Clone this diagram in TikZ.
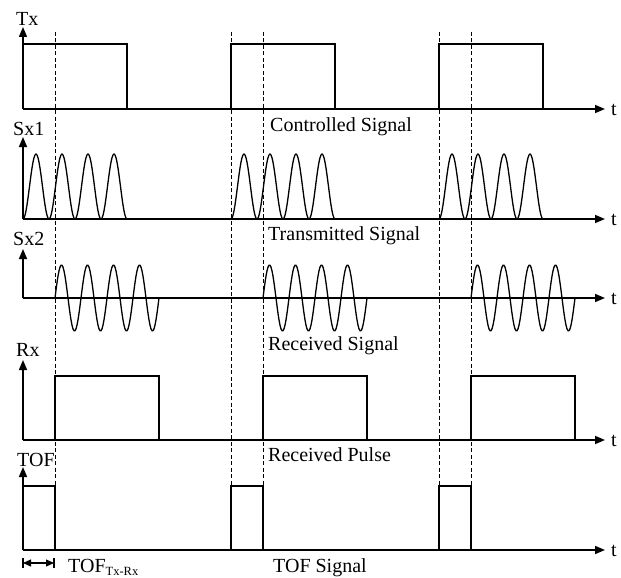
\documentclass[tikz,border=0pt]{standalone}
\usepackage{fontspec}
\setmainfont{Liberation Serif}
\usetikzlibrary{arrows.meta}

\begin{document}
\begin{tikzpicture}[x=1pt,y=-1pt,
  every node/.style={inner sep=0pt, font=\fontsize{20}{24}\selectfont},
  lbl/.style={anchor=base west},
  axis/.style={line width=1.5pt, -{Triangle[length=10pt,width=8pt]}},
  sig/.style={line width=1.3pt},
  guide/.style={line width=0.6pt, dash pattern=on 4pt off 2.5pt}]
  \useasboundingbox (0,0) rectangle (621,578);
  % origins of the five time axes
  \coordinate (tx)  at (23,109);
  \coordinate (sx1) at (23,219);
  \coordinate (sx2) at (23,298);
  \coordinate (rx)  at (23,440);
  \coordinate (tof) at (23,550);

  % dashed guides
  \foreach \gx in {55,231,263,439,471}
    \draw[guide] (\gx,32) -- (\gx,486);

  % axes
  \foreach \ax/\hgt in {tx/82, sx1/82, sx2/49, rx/80, tof/83} {
    \draw[axis] (\ax) -- ++(0,-\hgt);
    \draw[axis] (\ax) -- ++(582,0);
    \path (\ax) ++(588,6) node[lbl] (t-\ax) {t};
  }

  % one period of every signal per step
  \foreach \k in {0,1,2} {
    \pgfmathsetmacro{\xa}{23+208*\k}
    \pgfmathsetmacro{\xb}{55+208*\k}
    \draw[sig] (\xa,109) -- (\xa,44) -- (\xa+104,44) -- (\xa+104,109);
    \draw[sig] plot[domain=0:104, samples=105]
      ({\xa+\x}, {219-65*sin(\x/26*180)*sin(\x/26*180)});
    \draw[sig] plot[domain=0:104, samples=105]
      ({\xb+\x}, {298-33*sin(\x/26*360)});
    \draw[sig] (\xb,440) -- (\xb,376) -- (\xb+104,376) -- (\xb+104,440);
    \draw[sig] (\xa,550) -- (\xa,486) -- (\xb,486) -- (\xb,550);
  }

  % axis names
  \node[lbl] (txl)  at (16,26)  {Tx};
  \node[lbl] (sx1l) at (13,135) {Sx1};
  \node[lbl] (sx2l) at (13,245) {Sx2};
  \node[lbl] (rxl)  at (16,356) {Rx};
  \node[lbl] (tofl) at (17,466) {TOF};

  % captions
  \node[lbl] (cap1) at (270,131) {Controlled Signal};
  \node[lbl] (cap2) at (268,240) {Transmitted Signal};
  \node[lbl] (cap3) at (268,350) {Received Signal};
  \node[lbl] (cap4) at (268,461) {Received Pulse};
  \node[lbl] (cap5) at (273,572) {TOF Signal};

  % time of flight
  \coordinate (da) at (23,563);
  \coordinate (db) at (54,563);
  \draw[line width=1.1pt] (da) ++(0,-5) -- ++(0,10);
  \draw[line width=1.1pt] (db) ++(0,-5) -- ++(0,10);
  \draw[line width=1.1pt, {Triangle[length=8pt,width=7pt]}-{Triangle[length=8pt,width=7pt]}] (da) -- (db);
  \node[lbl] (tofrx) at (68,572)
    {TOF\raisebox{-3pt}{\fontsize{12.5}{14}\selectfont Tx-Rx}};
\end{tikzpicture}
\end{document}
